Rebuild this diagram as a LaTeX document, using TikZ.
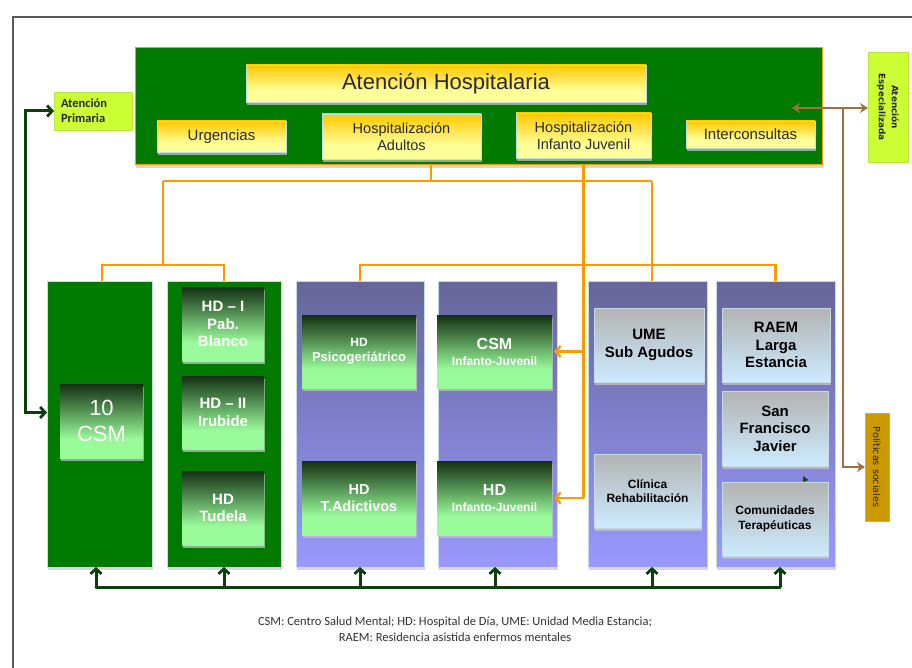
\documentclass[tikz,border=0pt]{standalone}
\usepackage{fontspec}
\setmainfont{Liberation Sans}
\newfontfamily\calfont{Carlito}
\newfontfamily\djfont{DejaVu Sans}
\usetikzlibrary{arrows.meta,shadows,calc}

\definecolor{hgreen}{HTML}{007A00}
\definecolor{dkgreen}{HTML}{0B400B}
\definecolor{gtop}{HTML}{132F13}
\definecolor{gbot}{HTML}{99FA99}
\definecolor{ytop}{HTML}{FFC800}
\definecolor{ybot}{HTML}{FFFF99}
\definecolor{ptop}{HTML}{666699}
\definecolor{pbot}{HTML}{9999FF}
\definecolor{stop}{HTML}{B3B3B3}
\definecolor{sbot}{HTML}{CCEBFF}
\definecolor{lineor}{HTML}{FF9900}
\definecolor{brownl}{HTML}{A0703F}
\definecolor{limec}{HTML}{CCFF33}
\definecolor{goldc}{HTML}{CC9900}
\definecolor{framec}{HTML}{5A5A5A}
\definecolor{edgec}{HTML}{C4DCE4}
\definecolor{ytext}{HTML}{2A2A2A}

% shading maps the node onto the band 25bp..75bp
\pgfdeclareverticalshading{greenbox}{100bp}{color(0bp)=(gbot); color(38bp)=(gbot); color(75bp)=(gtop); color(100bp)=(gtop)}
\pgfdeclareverticalshading{yellowbox}{100bp}{color(0bp)=(ybot); color(40bp)=(ybot); color(75bp)=(ytop); color(100bp)=(ytop)}

\newcommand\fsz[2]{\fontsize{#1}{#2}\selectfont}
% box given by its corners: name, style, x1, y1, x2, y2, text
\newcommand\boxat[7]{\node[#2, minimum width={#5-#3}, minimum height={#6-#4}] (#1) at ({(#3+#5)/2},{(#4+#6)/2}) {#7};}

\tikzset{
  base/.style={inner sep=0pt, outer sep=0pt, align=center},
  softshadow/.style={drop shadow={shadow xshift=1pt, shadow yshift=-3pt, fill=black!22, opacity=0.7}},
  topbox/.style={base, fill=hgreen, draw=lineor, line width=1pt, softshadow},
  ybox/.style={base, shading=yellowbox, draw=edgec, line width=0.8pt, text=ytext, softshadow},
  gcol/.style={base, fill=hgreen, draw=edgec, line width=0.8pt, softshadow},
  pcol/.style={base, top color=ptop, bottom color=pbot, draw=edgec, line width=0.8pt, softshadow},
  gbox/.style={base, shading=greenbox, text=white, font=\bfseries, softshadow},
  sbox/.style={base, top color=stop, bottom color=sbot, draw=edgec, line width=0.8pt, text=black, font=\bfseries, softshadow},
  lbox/.style={base, fill=limec, draw=limec!80!gray, line width=0.5pt},
  oline/.style={draw=lineor, line width=2.7pt},
  oarr/.style={oline, -{Straight Barb[length=5pt,width=11pt,line width=2.4pt]}, shorten >=2pt},
  gline/.style={draw=dkgreen, line width=3pt},
  garr/.style={gline, -{Straight Barb[length=5pt,width=11pt,line width=2.8pt]}},
  barr/.style={draw=brownl, line width=2.7pt},
  btip/.tip={Stealth[length=8pt,width=10pt]},
}

\begin{document}
\begin{tikzpicture}[x=1pt,y=-1pt]
\path[use as bounding box, fill=white] (0,0) rectangle (912,668);
\draw[framec, line width=1.5pt] (912,17) -- (13,17) -- (13,668);

% hospital care block
\boxat{hosp}{topbox}{135}{48}{822}{165}{}
\boxat{ah}{ybox, font=\fsz{22}{26}}{246}{65}{646}{102}{Atención Hospitalaria}
\boxat{urg}{ybox, font=\fsz{15}{18}}{157}{121}{286}{152}{Urgencias}
\boxat{had}{ybox, font=\fsz{14.5}{17.5}}{322}{114}{481}{159}{Hospitalización\\Adultos}
\boxat{hij}{ybox, font=\fsz{14.5}{17.5}}{516}{113}{651}{158}{Hospitalización\\Infanto Juvenil}
\boxat{inter}{ybox, font=\fsz{15}{18}}{686}{121}{815}{148}{Interconsultas}

% side labels
\boxat{ap}{lbox, text width=64pt, align=left, font=\calfont\bfseries\fsz{12.5}{15}, text=black!85}{54}{92}{132}{130}{Atención\\Primaria}
\boxat{ae}{lbox}{868}{52}{908}{162}{}
\node[base, rotate=-90, font=\djfont\bfseries\fsz{8.8}{13}, text=black!85] (aetext) at (ae.center) {Atención\\Especializada};
\boxat{ps}{base, fill=goldc, draw=goldc!80!white, line width=0.5pt}{865}{413}{889}{521}{}
\node[base, rotate=-90, font=\djfont\fsz{9.6}{10}, text=black!85] (pstext) at (ps.center) {Políticas sociales};

% service columns
\boxat{c1}{gcol}{47}{281}{152}{567}{}
\boxat{c2}{gcol}{167}{281}{281}{567}{}
\boxat{c3}{pcol}{296}{281}{424}{567}{}
\boxat{c4}{pcol}{438}{281}{557}{567}{}
\boxat{c5}{pcol}{588}{281}{707}{567}{}
\boxat{c6}{pcol}{716}{281}{835}{567}{}

% units inside the columns
\boxat{csm}{gbox, font=\mdseries\fsz{22}{26.5}}{60}{384}{143}{458}{10\\CSM}
\boxat{hd1}{gbox, font=\bfseries\fsz{15}{17.5}}{182}{287}{264}{361}{HD – I\\Pab.\\Blanco}
\boxat{hd2}{gbox, font=\bfseries\fsz{15}{17.5}}{182}{376}{264}{449}{HD – II\\Irubide}
\boxat{hdt}{gbox, font=\bfseries\fsz{15}{17.5}}{182}{471}{264}{545}{HD\\Tudela}
\boxat{hdp}{gbox, font=\bfseries\fsz{13}{15}}{302}{315}{416}{388}{{\fsz{12}{15}HD}\\Psicogeriátrico}
\boxat{hdta}{gbox, font=\bfseries\fsz{14.5}{17.5}}{302}{461}{416}{535}{HD\\T.Adictivos}
\boxat{csmij}{gbox, font=\bfseries\fsz{12}{16}}{437}{315}{552}{388}{{\fsz{16}{16}CSM}\\Infanto-Juvenil}
\boxat{hdij}{gbox, font=\bfseries\fsz{12}{16}}{437}{461}{552}{535}{{\fsz{16}{16}HD}\\Infanto-Juvenil}
\boxat{ume}{sbox, font=\bfseries\fsz{15}{17.5}}{594}{308}{704}{382}{UME\\Sub Agudos}
\boxat{clin}{sbox, font=\bfseries\fsz{12}{14.5}}{594}{454}{701}{528}{Clínica\\Rehabilitación}
\boxat{raem}{sbox, font=\bfseries\fsz{15}{17.5}}{722}{308}{830}{382}{RAEM\\Larga\\Estancia}
\boxat{sfj}{sbox, font=\bfseries\fsz{15}{17.5}}{722}{391}{828}{466}{San\\Francisco\\Javier}
\boxat{ct}{sbox, font=\bfseries\fsz{12}{14.5}}{722}{482}{828}{556}{Comunidades\\Terapéuticas}

% orange distribution tree from the hospital block
\coordinate (oj) at (431,181);
\coordinate (oL) at (163,181);
\coordinate (oR) at (652,181);
\coordinate (oL2) at (163,265);
\coordinate (t1) at (102,281);
\draw[oline] (hosp.south -| oj) -- (oj);
\draw[oline] (oL) -- (oR);
\draw[oline] (oL) -- (oL2);
\draw[oline] (t1) |- (oL2 -| c2.north) -- (c2.north);
\draw[oline] (oR) -- (oR |- c5.north);
\draw[oline] (c3.north) |- (oL2 -| c6.north) -- (c6.north);
\draw[oline] (hosp.south -| hij.south) -- (hij.south |- hdij.east);
\draw[oarr] (hij.south |- csmij.east) -- (csmij.east);
\draw[oarr] (hij.south |- hdij.east) -- (hdij.east);

% dark green return line under the columns
\coordinate (gb) at (0,587);
\foreach \n/\dx [count=\i] in {c1/-3.5,c2/0,c3/0,c4/-2.5,c5/4.5,c6/4.5}
  \coordinate (gt\i) at ([xshift=\dx pt]\n.south);
\draw[gline, line cap=round] (gt1 |- gb) -- (gt6 |- gb);
\foreach \i in {1,...,6}
  \draw[garr] (gt\i |- gb) -- (gt\i);

% link between primary care and the mental health centres
\coordinate (lx) at (25,0);
\coordinate (c1in) at ($(c1.west)+(0,-11.5)$);
\draw[gline, {Straight Barb[length=5pt,width=11pt,line width=2.8pt]}-{Straight Barb[length=5pt,width=11pt,line width=2.8pt]}]
  (ap.west) -| (lx |- c1in) -- (c1in);

% brown links to specialised care and social policies
\coordinate (bt) at (792,108);
\coordinate (bj) at (843,108);
\draw[barr, {btip}-{btip}] (bt) -- (bt -| ae.west);
\draw[barr, -{btip}] (bj) |- (ps.west);

% small arrow tip showing behind the last column
\fill[dkgreen!70!hgreen] (803,476) -- (808.5,480) -- (803,482) -- cycle;

% abbreviations
\node[base, font=\calfont\fsz{12.5}{16}, text=black!80] (caption) at (455,629)
  {CSM: Centro Salud Mental; HD: Hospital de Día, UME: Unidad Media Estancia;\\RAEM: Residencia asistida enfermos mentales};
\end{tikzpicture}
\end{document}
